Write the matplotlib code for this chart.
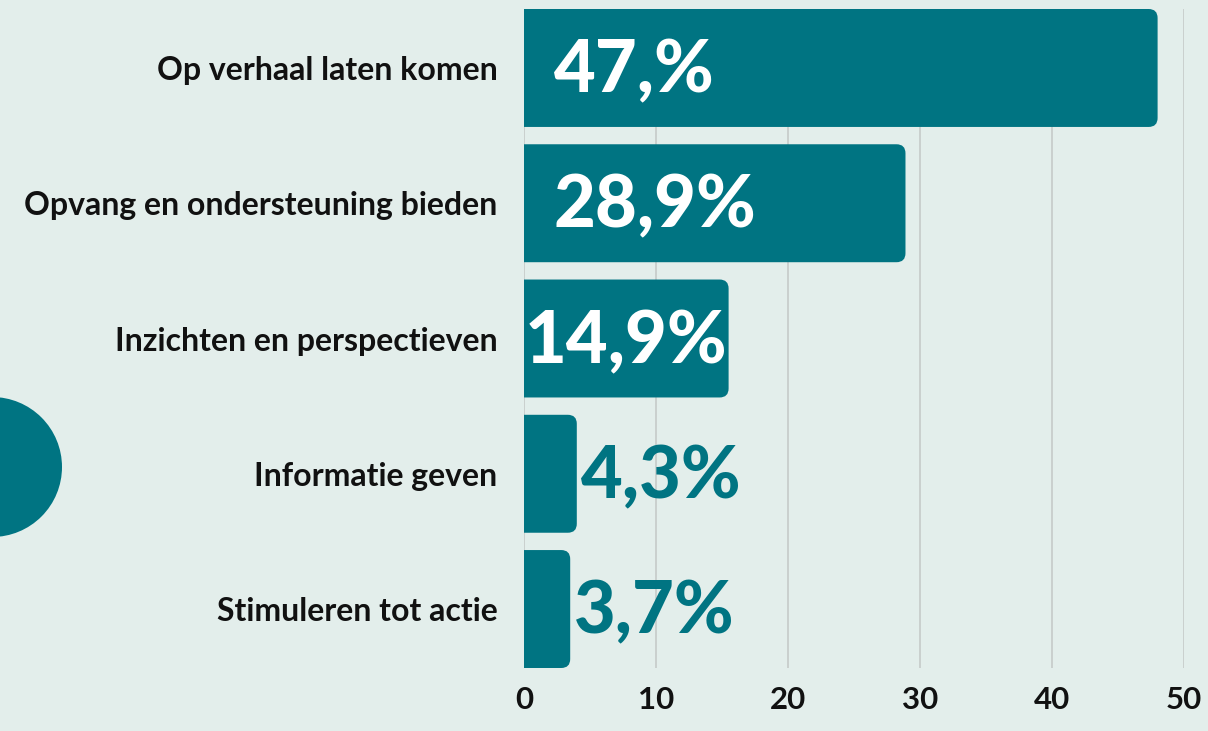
import matplotlib
matplotlib.use("Agg")
import matplotlib.pyplot as plt
from matplotlib.patches import FancyBboxPatch, Ellipse

categories = ["Op verhaal laten komen", "Opvang en ondersteuning bieden",
              "Inzichten en perspectieven", "Informatie geven", "Stimuleren tot actie"]
bar_lengths = [48.0, 28.9, 15.5, 4.0, 3.5]
value_labels = ["47,%", "28,9%", "14,9%", "4,3%", "3,7%"]
xticks = [0, 10, 20, 30, 40, 50]

BG = "#e3eeeb"
TEAL = "#007482"
GRID = "#c5cac9"
FONT = "Lato"

W, H = 1208, 731
fig = plt.figure(figsize=(W / 100, H / 100), dpi=100, facecolor=BG)

# background decoration axes (pixel coordinates)
bg = fig.add_axes([0, 0, 1, 1], zorder=0)
bg.set_xlim(0, W)
bg.set_ylim(H, 0)
bg.axis("off")
bg.add_patch(Ellipse((-8, 467), 140, 140, color=TEAL, lw=0))

left, right, top, bottom = 524, 1184, 9, 668
ax = fig.add_axes([left / W, 1 - bottom / H, (right - left) / W, (bottom - top) / H], zorder=1)
ax.patch.set_alpha(0)

n = len(categories)
bh = 0.872
ax.set_xlim(0, 50)
ax.set_ylim(n - 1 + bh / 2, -bh / 2)

xpx = (right - left) / 50.0
ypx = (bottom - top) / (n - 1 + bh)
rad_px = 9
for i, v in enumerate(bar_lengths):
    p = FancyBboxPatch((-2, i - bh / 2), v + 2, bh,
                       boxstyle=f"round,pad=0,rounding_size={rad_px / xpx}",
                       mutation_aspect=xpx / ypx, fc=TEAL, ec="none", zorder=3)
    ax.add_patch(p)

ax.set_xticks(xticks)
ax.set_yticks(range(n))
ax.set_yticklabels(categories)
ax.grid(axis="x", color=GRID, lw=1.2, zorder=1)
ax.set_axisbelow(True)
for s in ax.spines.values():
    s.set_visible(False)
ax.tick_params(axis="both", length=0)
ax.tick_params(axis="y", pad=19)
ax.tick_params(axis="x", pad=13)
for t in ax.get_yticklabels():
    t.set_fontfamily(FONT); t.set_fontweight("bold"); t.set_fontsize(23); t.set_color("#111111")
for t in ax.get_xticklabels():
    t.set_fontfamily(FONT); t.set_fontweight("bold"); t.set_fontsize(22.5); t.set_color("#111111")

fig.canvas.draw()
r = fig.canvas.get_renderer()
for i, (v, lab) in enumerate(zip(bar_lengths, value_labels)):
    bar_w = v * xpx
    t = ax.text(0, i, lab, fontsize=52, fontweight="black", fontfamily=FONT,
                va="center", ha="left", color="white", zorder=5)
    tw = t.get_window_extent(r).width
    if bar_w > tw + 60:
        t.set_x(30 / xpx)
    elif bar_w > tw:
        t.set_x(v / 2); t.set_ha("center")
    else:
        t.set_x(v + 4 / xpx); t.set_color(TEAL)
    t.set_y(i + 0.03)

fig.savefig("out.png", dpi=100, facecolor=BG)
